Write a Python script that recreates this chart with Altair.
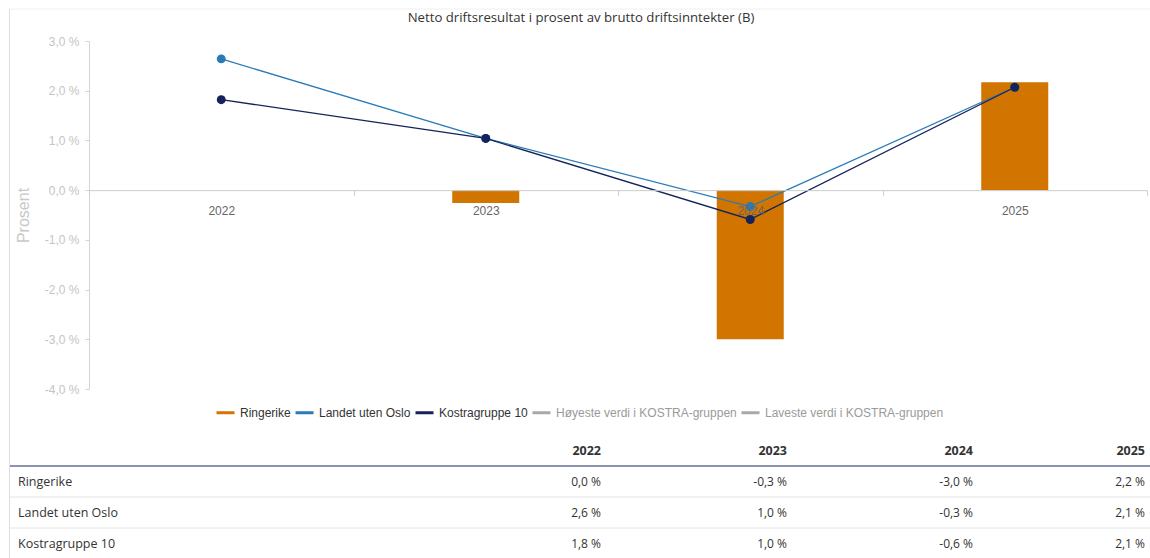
import altair as alt
import pandas as pd

# ---------------- data ----------------
years = ["2022", "2023", "2024", "2025"]
series = ["Ringerike", "Landet uten Oslo", "Kostragruppe 10",
          "Høyeste verdi i KOSTRA-gruppen", "Laveste verdi i KOSTRA-gruppen"]
colors = ["#d27500", "#2a7ab5", "#14245a", "#a8a8a8", "#a8a8a8"]
ringerike = [0.0, -0.26, -3.0, 2.17]
landet = [2.64, 1.04, -0.33, 2.07]
kostra = [1.82, 1.04, -0.59, 2.07]
y_ticks = [-4, -3, -2, -1, 0, 1, 2, 3]
table_rows = ["Ringerike", "Landet uten Oslo", "Kostragruppe 10"]
title_text = "Netto driftsresultat i prosent av brutto driftsinntekter (B)"
y_title = "Prosent"

values = {"Ringerike": ringerike, "Landet uten Oslo": landet, "Kostragruppe 10": kostra}
recs = []
for s, vals in values.items():
    for i, (yr, v) in enumerate(zip(years, vals)):
        recs.append({"series": s, "year": yr, "value": v, "col": i + 1, "row": s})
df = pd.DataFrame(recs)
header_df = pd.DataFrame({"year": years, "col": list(range(1, len(years) + 1)), "row": "header"})
names_df = pd.DataFrame({"row": table_rows, "col": 0, "name": table_rows})

# ---------------- layout ----------------
W, H = 1058, 348
ymin, ymax = -4, 3
zero_offset = -H * (0 - ymin) / (ymax - ymin)
pct_expr = "(datum.value < 0 ? '-' : '') + replace(format(abs(datum.value), '.1f'), '.', ',') + ' %'"

color_scale = alt.Scale(domain=series, range=colors)
legend = alt.Legend(
    title=None, orient="none", legendX=126, legendY=361, direction="horizontal",
    symbolType="stroke", symbolStrokeWidth=3, symbolSize=324,
    labelFont="Liberation Sans", labelFontSize=12, labelOffset=4, columnPadding=-2,
    labelColor=alt.ExprRef(expr="indexof(datum.label, 'KOSTRA') >= 0 ? '#9a9a9a' : '#333333'"),
    labelLimit=400,
)
color_enc = alt.Color("series:N", scale=color_scale, legend=legend)

x_enc = alt.X(
    "year:N",
    scale=alt.Scale(type="band", domain=years, paddingInner=0, paddingOuter=0),
    axis=alt.Axis(
        title=None, offset=zero_offset, tickBand="extent", labelAngle=0,
        domainColor="#cccccc", tickColor="#cccccc", tickSize=5, labelPadding=10,
        labelFont="Liberation Sans", labelFontSize=12, labelColor="#666666",
        zindex=1, grid=False,
    ),
)
y_enc = alt.Y(
    "value:Q",
    scale=alt.Scale(domain=[ymin, ymax], nice=False, zero=False),
    axis=alt.Axis(
        values=y_ticks, labelExpr=pct_expr, grid=False,
        domainColor="#d4d4d4", tickColor="#d4d4d4", tickSize=4, labelPadding=6,
        labelFont="Liberation Sans", labelFontSize=12, labelColor="#c4c4c4",
        title=y_title, titleColor="#c8c8c8", titleFont="Liberation Sans",
        titleFontSize=16, titleFontWeight="normal", titlePadding=13,
    ),
)

base = alt.Chart(df)
bars = base.transform_filter(alt.datum.series == "Ringerike").mark_bar(size=67).encode(
    x=x_enc, y=y_enc, color=color_enc,
)
lines = base.transform_filter(alt.datum.series != "Ringerike").mark_line(strokeWidth=1.3).encode(
    x=x_enc, y=y_enc, color=color_enc, order="col:Q",
)
points = base.transform_filter(alt.datum.series != "Ringerike").mark_point(
    filled=True, size=80, opacity=1
).encode(
    x=x_enc, y=y_enc, color=color_enc,
)
main = alt.layer(bars, lines, points)

# ---------------- table ----------------
tx = alt.X("col:Q", scale=alt.Scale(domain=[0, 1, 2, 3, 4], range=[-71, 512, 698, 884, 1056]), axis=None)
ty_scale = alt.Scale(type="band", domain=["header"] + table_rows, range=[394, 518],
                     paddingInner=0, paddingOuter=0)
ty = alt.Y("row:N", scale=ty_scale, axis=None)
ty_bottom = alt.Y("row:N", scale=ty_scale, axis=None, bandPosition=1)

header_rule = alt.Chart(header_df.head(1)).mark_rule(color="#8a94b0", strokeWidth=2).encode(
    x=alt.value(-79), x2=alt.value(1061), y=ty_bottom)
row_rules = alt.Chart(names_df).mark_rule(color="#e4e4e4", strokeWidth=1).encode(
    x=alt.value(-79), x2=alt.value(1061), y=ty_bottom)
header_text = alt.Chart(header_df).mark_text(
    align="right", font="Open Sans", fontSize=12.5, fontWeight="bold", color="#333333"
).encode(x=tx, y=ty, text="year:N")
name_text = alt.Chart(names_df).mark_text(
    align="left", font="Open Sans", fontSize=12.5, color="#333333"
).encode(x=tx, y=ty, text="name:N")
value_text = alt.Chart(df).transform_calculate(label=pct_expr).mark_text(
    align="right", font="Open Sans", fontSize=12, color="#333333"
).encode(x=tx, y=ty, text="label:N")
table = alt.layer(header_rule, row_rules, header_text, name_text, value_text)

# ---------------- frame ----------------
frame_data = alt.Data(values=[{}])
left_border = alt.Chart(frame_data).mark_rule(color="#dedede", strokeWidth=1).encode(
    x=alt.value(-79.5), y=alt.value(-32), y2=alt.value(517))
top_border = alt.Chart(frame_data).mark_rule(color="#f0f0f0", strokeWidth=1).encode(
    x=alt.value(-79), x2=alt.value(1061), y=alt.value(-32))

chart = alt.layer(main, table, left_border, top_border).resolve_scale(
    x="independent", y="independent"
).properties(
    width=W, height=H,
    title=alt.TitleParams(
        title_text, font="Open Sans", fontSize=13.2, fontWeight="normal", color="#333333",
        anchor="middle", frame="group", dx=-37, offset=-17,
    ),
    autosize=alt.AutoSizeParams(type="none"),
    padding={"left": 89, "top": 41, "right": 3, "bottom": 169},
    background="white",
).configure_view(stroke=None)

chart.save("out.html", embed_options={"renderer": "svg", "actions": False})
